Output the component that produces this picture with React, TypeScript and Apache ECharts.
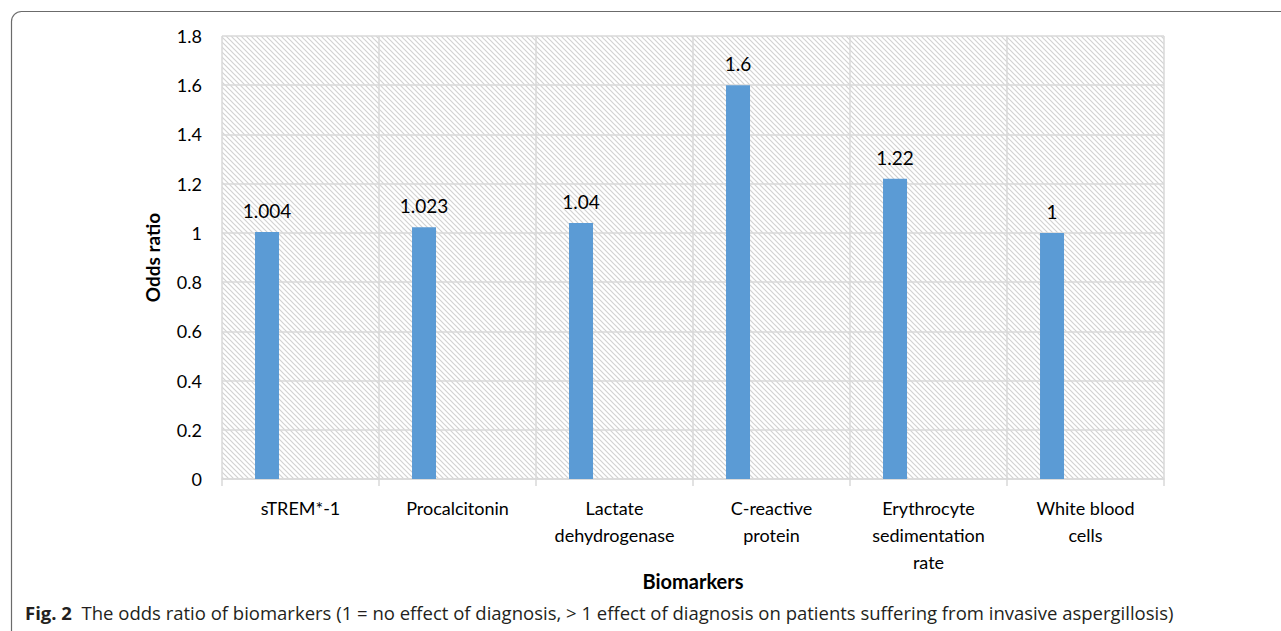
import React, { useEffect, useRef } from "react";
import * as echarts from "echarts";

const categories = [
  "sTREM*-1",
  "Procalcitonin",
  "Lactate\ndehydrogenase",
  "C-reactive\nprotein",
  "Erythrocyte\nsedimentation\nrate",
  "White blood\ncells",
];
const oddsRatios = [1.004, 1.023, 1.04, 1.6, 1.22, 1];
const valueLabels = ["1.004", "1.023", "1.04", "1.6", "1.22", "1"];
// empty second series of the original spreadsheet chart (keeps bars offset left)
const emptySeries = [null, null, null, null, null, null];
const yMin = 0;
const yMax = 1.8;
const yStep = 0.2;

const xTitle = "Biomarkers";
const yTitle = "Odds ratio";
const captionBold = "Fig. 2";
const captionText =
  "The odds ratio of biomarkers (1 = no effect of diagnosis, > 1 effect of diagnosis on patients suffering from invasive aspergillosis)";

const hatch =
  "data:image/svg+xml;utf8," +
  encodeURIComponent(
    "<svg xmlns='http://www.w3.org/2000/svg' width='5' height='5'><path d='M-1,-1 L6,6 M-1,4 L1,6 M4,-1 L6,1' stroke='#d2d2d2' stroke-width='1.2' fill='none'/></svg>"
  );

const GRID = { left: 222, top: 36, right: 117, bottom: 152 };
const W = 1281;
const H = 631;

export default function App() {
  const ref = useRef<HTMLDivElement>(null);
  useEffect(() => {
    if (!ref.current) return;
    const chart = echarts.init(ref.current, null, { renderer: "svg" });
    const font = "Lato, 'Open Sans', sans-serif";
    chart.setOption({
      animation: false,
      backgroundColor: "#ffffff",
      textStyle: { fontFamily: font },
      grid: { ...GRID, containLabel: false },
      graphic: [
        {
          type: "rect",
          z: -10,
          silent: true,
          shape: {
            x: GRID.left,
            y: GRID.top,
            width: W - GRID.left - GRID.right,
            height: H - GRID.top - GRID.bottom,
          },
          style: { fill: { image: hatch, repeat: "repeat" } as any },
        },
        {
          type: "rect",
          z: 100,
          silent: true,
          shape: { x: 11.5, y: 11.5, width: 1400, height: 800, r: [10, 0, 0, 0] },
          style: { fill: "none", stroke: "#6b6b6b", lineWidth: 1.2 },
        },
        {
          type: "text",
          z: 100,
          x: 25,
          y: 612,
          style: {
            text: "{b|" + captionBold + "}  " + captionText,
            fill: "#231f20",
            font: "18.5px 'Open Sans', sans-serif",
            verticalAlign: "middle",
            rich: {
              b: {
                fontWeight: "bold",
                fontSize: 18.5,
                fontFamily: "'Open Sans', sans-serif",
                fill: "#231f20",
              },
            },
          } as any,
        },
      ],
      xAxis: {
        type: "category",
        data: categories,
        name: xTitle,
        nameLocation: "middle",
        nameGap: 92,
        nameMoveOverlap: false,
        nameTextStyle: { fontSize: 20, fontWeight: "bold", color: "#000", fontFamily: font },
        axisLine: { show: true, lineStyle: { color: "#d9d9d9", width: 1.5 } },
        axisTick: { show: true, length: 7, lineStyle: { color: "#d9d9d9", width: 1.5 } },
        splitLine: { show: true, lineStyle: { color: "#d9d9d9", width: 1.5 } },
        axisLabel: {
          interval: 0,
          fontSize: 18,
          color: "#000",
          lineHeight: 27,
          margin: 15,
          fontFamily: font,
        },
      },
      yAxis: {
        type: "value",
        min: yMin,
        max: yMax,
        interval: yStep,
        name: yTitle,
        nameLocation: "middle",
        nameGap: 60,
        nameMoveOverlap: false,
        nameTextStyle: { fontSize: 19, fontWeight: "bold", color: "#000", fontFamily: font },
        axisLine: { show: false },
        axisTick: { show: false },
        splitLine: { show: true, lineStyle: { color: "#d9d9d9", width: 1.5 } },
        axisLabel: { fontSize: 18, color: "#000", margin: 20, fontFamily: font },
      },
      series: [
        {
          type: "bar",
          data: oddsRatios,
          barWidth: 24,
          barGap: "179%",
          itemStyle: { color: "#5b9bd5" },
          label: {
            show: true,
            position: "top",
            distance: 12,
            fontSize: 19,
            color: "#000",
            fontFamily: font,
            formatter: (p: any) => valueLabels[p.dataIndex],
          },
        },
        {
          type: "bar",
          data: emptySeries,
          barWidth: 24,
          barGap: "179%",
          itemStyle: { color: "#ed7d31" },
        },
      ],
    });
    return () => chart.dispose();
  }, []);
  return (
    <div
      ref={ref}
      style={{ position: "fixed", left: 0, top: 0, width: W, height: H }}
    />
  );
}
